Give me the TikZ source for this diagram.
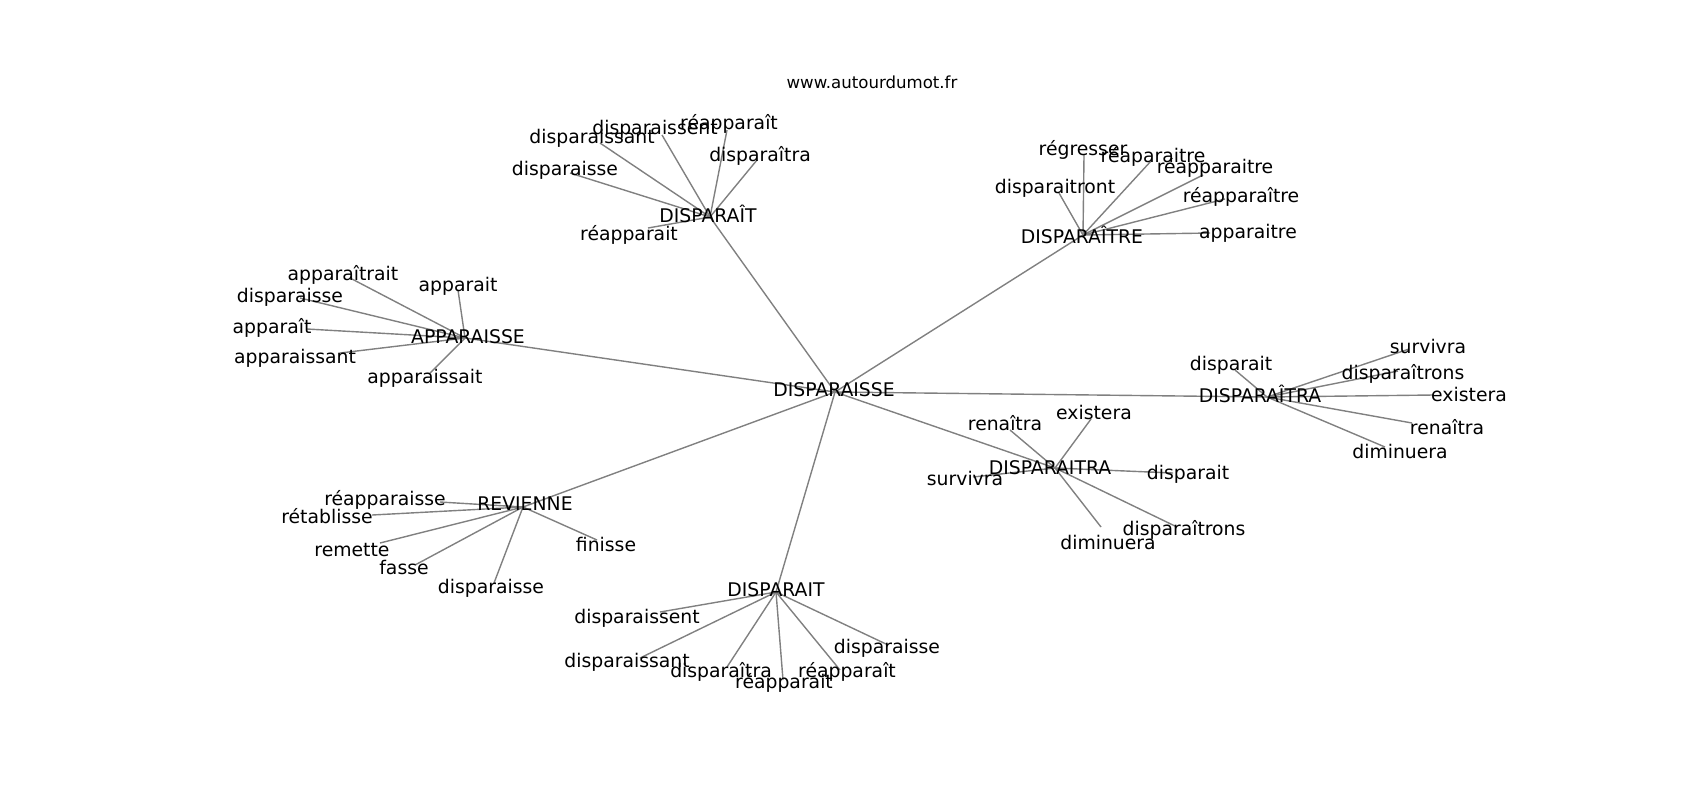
\documentclass[tikz,border=0pt]{standalone}
\usepackage{fontspec}
\setmainfont{DejaVu Sans}
\usetikzlibrary{backgrounds}

\begin{document}
\begin{tikzpicture}[
  x=0.5pt, y=-0.5pt,
  word/.style={anchor=base, inner sep=0pt, font=\fontsize{9.4}{11}\selectfont},
  site/.style={anchor=base, inner sep=0pt, font=\fontsize{8.3}{10}\selectfont},
  link/.style={draw=black!50, line width=0.7pt}
]
\useasboundingbox (0,0) rectangle (1700,800);

\node[site] (site) at (872,88) {www.autourdumot.fr};

% name / edge point / label base / text
\foreach \n/\ex/\ey/\lx/\ly/\t in {
  hub/835/392/834/396/DISPARAISSE,
  dpt/710/217/708/222/DISPARAÎT,
  dpt1/570/173/565/175/disparaisse,
  dpt2/600/143/592/143/disparaissant,
  dpt3/662/135/655/134/disparaissent,
  dpt4/727/130/729/129/réapparaît,
  dpt5/757/160/760/161/disparaîtra,
  dpt6/648/228/629/240/réapparait,
  dte/1083/235/1082/243/DISPARAÎTRE,
  dte1/1084/155/1083/155/régresser,
  dte2/1151/161/1153/162/réaparaitre,
  dte3/1203/175/1215/173/réapparaitre,
  dte4/1059/193/1055/193/disparaitront,
  dte5/1225/199/1241/202/réapparaître,
  dte6/1210/233/1248/238/apparaitre,
  aps/465/338/468/343/APPARAISSE,
  aps1/352/279/343/280/apparaîtrait,
  aps2/300/298/290/302/disparaisse,
  aps3/458/290/458/291/apparait,
  aps4/307/329/272/333/apparaît,
  aps5/340/353/295/363/apparaissant,
  aps6/430/373/425/383/apparaissait,
  dta/1267/397/1260/402/DISPARAÎTRA,
  dta1/1235/370/1231/370/disparait,
  dta2/1409/349/1428/353/survivra,
  dta3/1398/371/1403/379/disparaîtrons,
  dta4/1433/395/1469/401/existera,
  dta5/1412/423/1447/434/renaîtra,
  dta6/1385/447/1400/458/diminuera,
  dtr/1055/468/1050/474/DISPARAITRA,
  dtr1/1010/430/1005/430/renaîtra,
  dtr2/1091/419/1094/419/existera,
  dtr3/973/477/965/485/survivra,
  dtr4/1173/473/1188/479/disparait,
  dtr5/1177/527/1184/535/disparaîtrons,
  dtr6/1101/527/1108/549/diminuera,
  rev/523/507/525/510/REVIENNE,
  rev1/440/502/385/505/réapparaisse,
  rev2/372/515/327/523/rétablisse,
  rev3/380/543/352/556/remette,
  rev4/415/565/404/574/fasse,
  rev5/494/583/491/593/disparaisse,
  rev6/597/540/606/551/finisse,
  dpa/776/592/776/596/DISPARAIT,
  dpa1/660/612/637/623/disparaissent,
  dpa2/640/658/627/667/disparaissant,
  dpa3/727/667/721/677/disparaîtra,
  dpa4/783/680/784/688/réapparait,
  dpa5/840/670/847/677/réapparaît,
  dpa6/886/644/887/653/disparaisse%
} {
  \coordinate (\n) at (\ex,\ey);
  \node[word] (\n-l) at (\lx,\ly) {\t};
}

% edges under the words
\begin{scope}[on background layer]
  \foreach \h in {dpt,dte,aps,dta,dtr,rev,dpa} {
    \draw[link] (hub) -- (\h);
    \foreach \i in {1,...,6}
      \draw[link] (\h) -- (\h\i);
  }
\end{scope}

\end{tikzpicture}
\end{document}
